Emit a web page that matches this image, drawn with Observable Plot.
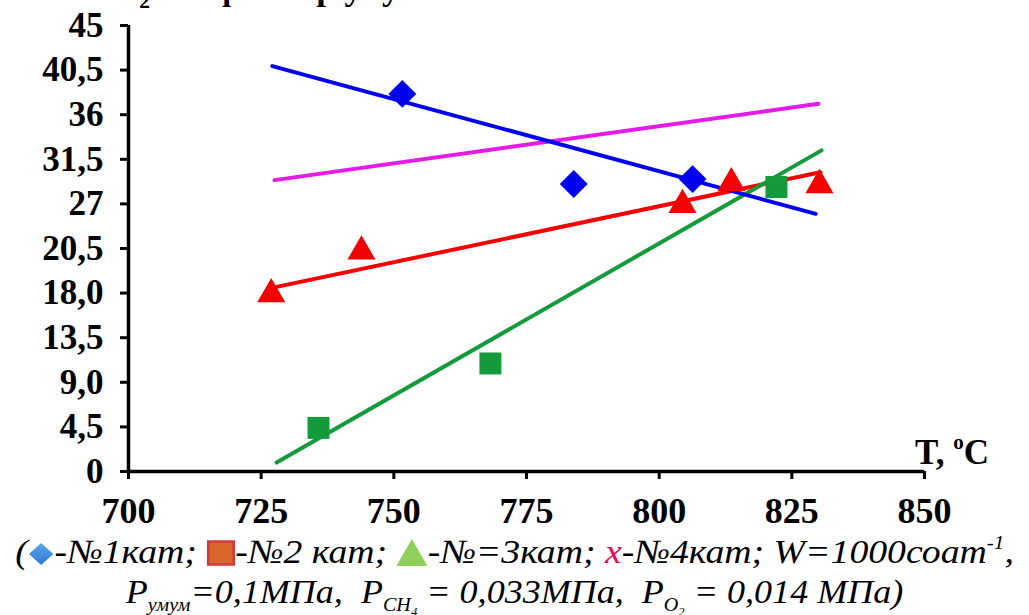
<!DOCTYPE html>
<html>
<head>
<meta charset="utf-8">
<script src="https://cdn.jsdelivr.net/npm/d3@7"></script>
<script src="https://cdn.jsdelivr.net/npm/@observablehq/plot@0.6"></script>
<style>
  html, body { margin: 0; padding: 0; background: #fff; }
  body { width: 1029px; height: 615px; position: relative; overflow: hidden; font-family: "Liberation Serif", "Times New Roman", serif; }
  #title { position: absolute; left: 114px; top: -28px; font-size: 34px; line-height: 34px; font-weight: bold; white-space: nowrap; transform: scaleX(1.03); transform-origin: 0 0; }
  #chart { position: absolute; left: 0; top: 0; }
  #tlabel { position: absolute; left: 915px; top: 433px; font-size: 35px; font-weight: bold; white-space: nowrap; }
  #tlabel sup { font-size: 21px; vertical-align: 0; position: relative; top: -15px; }
  .cap { position: absolute; left: 0; width: 1029px; text-align: center; font-style: italic; font-size: 34px; white-space: nowrap; line-height: 36px; transform-origin: 514px 0; }
  #cap1 { top: 534px; transform: scaleX(1.11); }
  #cap2 { top: 574px; transform: scaleX(1.06); }
  .cap sub { font-size: 19px; vertical-align: 0; position: relative; top: 8px; }
  .cap sub sub { font-size: 12px; top: 5px; }
  .cap sup { font-size: 19px; vertical-align: 0; position: relative; top: -14px; }
  .ico { vertical-align: -3px; }
</style>
</head>
<body>
<div id="title">С<sub style="font-size:21px">2</sub>-олефинлар унуми</div>
<div id="chart"></div>
<div id="tlabel">T, <sup>o</sup>C</div>
<div class="cap" id="cap1">(<svg class="ico" width="24" height="24" viewBox="0 0 24 24"><defs><linearGradient id="gb" x1="0" y1="0" x2="0" y2="1"><stop offset="0" stop-color="#5aa6ee"/><stop offset="1" stop-color="#2f78d0"/></linearGradient></defs><path d="M12 1 L23 12 L12 23 L1 12 Z" fill="url(#gb)"/></svg>-№1кат; <svg class="ico" width="26" height="26" viewBox="0 0 26 26"><rect x="1.5" y="1.5" width="23" height="23" fill="#d9672c" stroke="#d03a3a" stroke-width="2.5"/></svg>-№2 кат; <svg class="ico" width="28" height="27" viewBox="0 0 28 27"><path d="M14 0 L28 27 L0 27 Z" fill="#8fcf5c"/></svg>-№=3кат; <span style="color:#f0065a">x</span>-№4кат; W=1000соат<sup>-1</sup>,</div>
<div class="cap" id="cap2">P<sub>умум</sub>=0,1МПа,&nbsp; P<sub>CH<sub>4</sub></sub> = 0,033МПа,&nbsp; P<sub>O<sub>2</sub></sub> = 0,014 МПа)</div>
<script>
// Tick values and labels (as printed on the original)
const xTicks = [700, 725, 750, 775, 800, 825, 850];
const yTicks = [0, 4.5, 9, 13.5, 18, 22.5, 27, 31.5, 36, 40.5, 45];
const yLabels = ["0", "4,5", "9,0", "13,5", "18,0", "20,5", "27", "31,5", "36", "40,5", "45"];

// Catalyst №1 (blue diamonds)
const cat1T = [751.6, 783.9, 806.3];
const cat1Y = [38.1, 29.0, 29.5];
// Red triangles
const redT = [726.9, 743.9, 804.4, 813.6, 830.2];
const redY = [17.9, 22.2, 26.9, 29.1, 28.9];
// Green squares
const greenT = [735.8, 768.2, 822.1];
const greenY = [4.4, 10.9, 28.7];

// Trend line endpoints [T, yield]
const blueTrendT = [727.1, 829.5];
const blueTrendY = [40.9, 26.0];
const magentaTrendT = [727.5, 830.0];
const magentaTrendY = [29.4, 37.1];
const redTrendT = [726.8, 830.4];
const redTrendY = [18.5, 30.2];
const greenTrendT = [727.9, 830.6];
const greenTrendY = [0.9, 32.4];

const zip = (xs, ys) => xs.map((x, i) => ({x, y: ys[i]}));

const BLUE = "#0000ee", MAG = "#e61ae6", RED = "#f40000", GREEN = "#139a3b";
const font = "Liberation Serif";

const chart = Plot.plot({
  width: 1029,
  height: 530,
  marginLeft: 128,
  marginRight: 105,
  marginTop: 25,
  marginBottom: 59,
  style: {background: "transparent", fontFamily: font},
  x: {domain: [700, 850]},
  y: {domain: [0, 45]},
  marks: [
    Plot.axisY({ticks: yTicks, tickFormat: d => yLabels[yTicks.indexOf(d)], tickSize: 8, tickPadding: 17,
      fontSize: 35, fontWeight: "bold", fontFamily: font, stroke: "black", strokeWidth: 3, fill: "black", label: null}),
    Plot.axisX({ticks: xTicks, tickFormat: d => String(d), tickSize: 8, tickPadding: 18,
      fontSize: 36, fontWeight: "bold", fontFamily: font, stroke: "black", strokeWidth: 3, fill: "black", label: null}),
    Plot.ruleX([700], {y1: 0, y2: 45, stroke: "black", strokeWidth: 3.5}),
    Plot.ruleY([0], {x1: 700, x2: 850, stroke: "black", strokeWidth: 3.5}),
    Plot.line(zip(magentaTrendT, magentaTrendY), {x: "x", y: "y", stroke: MAG, strokeWidth: 4}),
    Plot.line(zip(redTrendT, redTrendY), {x: "x", y: "y", stroke: RED, strokeWidth: 4}),
    Plot.line(zip(greenTrendT, greenTrendY), {x: "x", y: "y", stroke: GREEN, strokeWidth: 4}),
    Plot.line(zip(blueTrendT, blueTrendY), {x: "x", y: "y", stroke: BLUE, strokeWidth: 4}),
    Plot.dot(zip(greenT, greenY), {x: "x", y: "y", symbol: "square", r: 12.4, fill: GREEN, stroke: "none"}),
    Plot.dot(zip(redT, redY), {x: "x", y: "y", symbol: "triangle2", r: 13.4, fill: RED, stroke: "none"}),
    Plot.dot(zip(cat1T, cat1Y), {x: "x", y: "y", symbol: "diamond2", r: 12.6, fill: BLUE, stroke: "none"})
  ]
});
document.getElementById("chart").appendChild(chart);
</script>
</body>
</html>
